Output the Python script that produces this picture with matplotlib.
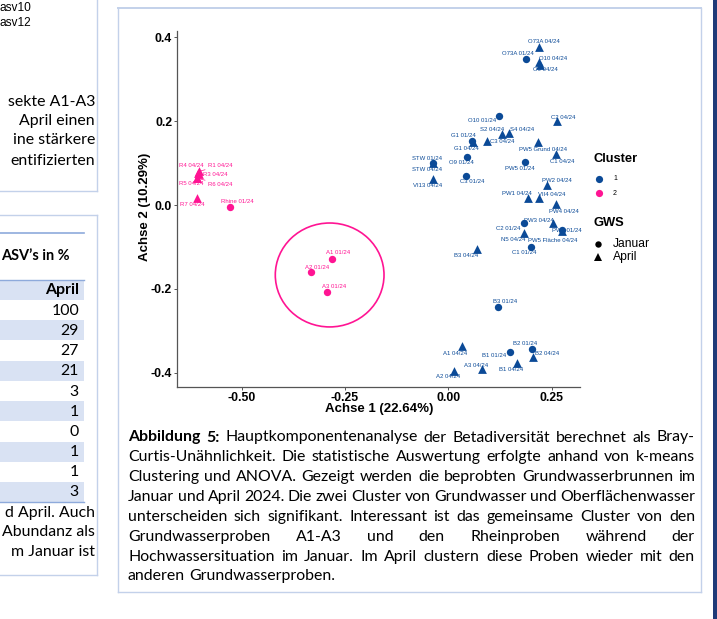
import matplotlib
matplotlib.use('Agg')
import matplotlib.pyplot as plt
from matplotlib.patches import Ellipse, Rectangle
from matplotlib.lines import Line2D

# ---------------- data ----------------
names = ["O73A 04/24", "O73A 01/24", "O10 04/24", "O9 04/24", "O10 01/24", "C2 04/24",
         "S2 04/24", "S4 04/24", "G1 01/24", "G1 04/24", "C3 04/24", "PW5 Grund 04/24",
         "C1 04/24", "O9 01/24", "PW5 01/24", "C3 01/24", "STW 01/24", "STW 04/24",
         "VI13 04/24", "PW2 04/24", "PW1 04/24", "VII4 04/24", "PW4 04/24", "C2 01/24",
         "PW3 04/24", "PW5 Fläche 04/24", "PW6 01/24", "N5 04/24", "C1 01/24", "B3 04/24",
         "B3 01/24", "A1 04/24", "B2 01/24", "B1 01/24", "B2 04/24", "B1 04/24",
         "A3 04/24", "A2 04/24", "R4 04/24", "R1 04/24", "R3 04/24", "R5 04/24",
         "R6 04/24", "R7 04/24", "Rhine 01/24", "A1 01/24", "A2 01/24", "A3 01/24"]
axis1 = [0.219, 0.187, 0.220, 0.222, 0.123, 0.264, 0.129, 0.146, 0.057, 0.059, 0.093, 0.217,
         0.261, 0.045, 0.186, 0.042, -0.036, -0.036, -0.036, 0.238, 0.194, 0.219, 0.261, 0.184,
         0.253, 0.275, 0.274, 0.184, 0.199, 0.069, 0.121, 0.032, 0.202, 0.149, 0.205, 0.166,
         0.082, 0.014, -0.606, -0.604, -0.604, -0.609, -0.607, -0.607, -0.527, -0.281, -0.332, -0.293]
axis2 = [0.377, 0.348, 0.341, 0.335, 0.212, 0.200, 0.169, 0.171, 0.152, 0.151, 0.153, 0.150,
         0.122, 0.115, 0.102, 0.070, 0.101, 0.101, 0.063, 0.047, 0.016, 0.016, 0.002, -0.042,
         -0.044, -0.061, -0.060, -0.066, -0.101, -0.104, -0.243, -0.336, -0.344, -0.352, -0.363, -0.376,
         -0.391, -0.396, 0.077, 0.080, 0.073, 0.064, 0.064, 0.017, -0.005, -0.128, -0.160, -0.207]
cluster = [1] * 38 + [2] * 10
gws = ['Januar' if n.endswith('01/24') else 'April' for n in names]

# cluster-2 ellipse (centre, width, height in axis units)
ellipse_center = (-0.287, -0.167)
ellipse_size = (0.263, 0.248)

x_ticks = [-0.50, -0.25, 0.00, 0.25]
x_ticklabels = ["-0.50", "-0.25", "0.00", "0.25"]
y_ticks = [-0.4, -0.2, 0.0, 0.2, 0.4]
y_ticklabels = ["-0.4", "-0.2", "0.0", "0.2", "0.4"]

table_header = "April"
table_values = [100, 29, 27, 21, 3, 1, 0, 1, 1, 3]

caption = [
    "Abbildung 5: Hauptkomponentenanalyse der Betadiversität berechnet als Bray-",
    "Curtis-Unähnlichkeit. Die statistische Auswertung erfolgte anhand von k-means",
    "Clustering und ANOVA. Gezeigt werden die beprobten Grundwasserbrunnen im",
    "Januar und April 2024. Die zwei Cluster von Grundwasser und Oberflächenwasser",
    "unterscheiden sich signifikant. Interessant ist das gemeinsame Cluster von den",
    "Grundwasserproben A1-A3 und den Rheinproben während der",
    "Hochwassersituation im Januar. Im April clustern diese Proben wieder mit den",
    "anderen Grundwasserproben.",
]
left_top_lines = ["sekte A1-A3", "April einen", "ine stärkere", "entifizierten"]
left_bottom_lines = ["d April. Auch", "Abundanz als", "m Januar ist"]

# ---------------- styles ----------------
W, H = 717, 619
BLUE = '#0b4a97'
PINK = '#ff1493'
BORDER = '#c3d1ea'
TBLUE = '#8eaadb'
SHADE = '#d9e2f3'
BODY = 'Lato'
ARIAL = 'Liberation Sans'

# label offsets in pixels (dx right, dy down)
label_offset = {
    "O73A 04/24": (5, -5.3), "O73A 01/24": (-8, -5.7), "O10 04/24": (14, -3.6),
    "O9 04/24": (5.7, 5.2), "O10 01/24": (-17.3, 4.4), "C2 04/24": (6, -4),
    "S2 04/24": (-10, -4.6), "S4 04/24": (13, -4), "G1 01/24": (-8.4, -5.6),
    "G1 04/24": (-6, 7), "C3 04/24": (15, 0.3), "PW5 Grund 04/24": (4.7, 7),
    "C1 04/24": (6.3, 7.7), "O9 01/24": (-6, 5.6), "PW5 01/24": (-5.7, 6.4),
    "C3 01/24": (6.3, 5.6), "STW 01/24": (-6, -4.4), "STW 04/24": (-6, 7.3),
    "VI13 04/24": (-6, 7.3), "PW2 04/24": (10.2, -4.8), "PW1 04/24": (-12, -4.8),
    "VII4 04/24": (12.7, -4.2), "PW4 04/24": (7.3, 7.4), "C2 01/24": (-16, 6.3),
    "PW3 04/24": (-14.4, -3), "PW5 Fläche 04/24": (-9.3, 9.6), "PW6 01/24": (5, 0.5),
    "N5 04/24": (-11, 6.6), "C1 01/24": (-6, 5.5), "B3 04/24": (-10.3, 7),
    "B3 01/24": (6.7, -5), "A1 04/24": (-6.7, 8), "B2 01/24": (-6.3, -5.3),
    "B1 01/24": (-15.4, 3), "B2 04/24": (13.7, -3.3), "B1 04/24": (-6, 7.3),
    "A3 04/24": (-6, -3.7), "A2 04/24": (-5.7, 6), "R4 04/24": (-6.7, -7),
    "R1 04/24": (21.5, -5.8), "R3 04/24": (16.5, 0.5), "R5 04/24": (-5.7, 5.7),
    "R6 04/24": (22.7, 6), "R7 04/24": (-5.6, 6.6), "Rhine 01/24": (6.4, -5.6),
    "A1 01/24": (6, -6), "A2 01/24": (6.3, -4.7), "A3 01/24": (6.7, -5.7),
}
segment_labels = {"R1 04/24", "R3 04/24", "R6 04/24"}

fig = plt.figure(figsize=(W / 100, H / 100), dpi=100)
fig.patch.set_facecolor('white')


def fx(px):
    return px / W


def fy(py):
    return 1 - py / H


def hline(x0, x1, y, color=BORDER, lw=1.0):
    fig.add_artist(Line2D([fx(x0), fx(x1)], [fy(y), fy(y)], color=color, lw=lw,
                          transform=fig.transFigure))


def vline(x, y0, y1, color=BORDER, lw=1.0):
    fig.add_artist(Line2D([fx(x), fx(x)], [fy(y0), fy(y1)], color=color, lw=lw,
                          transform=fig.transFigure))


# ---------------- page frames ----------------
vline(97, 0, 191); hline(0, 97, 191)
hline(0, 97, 215); vline(97, 215, 575); hline(0, 97, 575)
hline(118, 701, 8, lw=1.4); vline(118, 8, 592); vline(701, 8, 592); hline(118, 701, 592)
fig.add_artist(Rectangle((fx(713), 0), fx(717) - fx(713), 1, color='#1f3a78',
                         transform=fig.transFigure, lw=0))

# ---------------- scatter axes ----------------
ax = fig.add_axes([fx(177), fy(387), fx(580) - fx(177), fy(31) - fy(387)])
ax.set_xlim((177 - 448.3) / 413.4, (580 - 448.3) / 413.4)
ax.set_ylim((205 - 387) / 419, (205 - 31) / 419)
for s in ['top', 'right']:
    ax.spines[s].set_visible(False)
for s in ['left', 'bottom']:
    ax.spines[s].set_color('#555555')
    ax.spines[s].set_linewidth(0.9)
ax.set_xticks(x_ticks)
ax.set_xticklabels(x_ticklabels)
ax.set_yticks(y_ticks)
ax.set_yticklabels(y_ticklabels)
ax.tick_params(length=2, width=0.7, color='#555555', pad=1.5)
for lab in ax.get_xticklabels() + ax.get_yticklabels():
    lab.set_fontfamily(ARIAL)
    lab.set_fontweight('bold')
    lab.set_fontsize(8.8)
ax.patch.set_alpha(0)

ax.add_patch(Ellipse(ellipse_center, ellipse_size[0], ellipse_size[1], fill=False,
                     edgecolor=PINK, lw=1.2))

for month, marker, size in [('Januar', 'o', 28), ('April', '^', 40)]:
    for cl, col in [(1, BLUE), (2, PINK)]:
        xs = [a for a, c, g in zip(axis1, cluster, gws) if c == cl and g == month]
        ys = [b for b, c, g in zip(axis2, cluster, gws) if c == cl and g == month]
        ax.scatter(xs, ys, marker=marker, s=size, color=col, linewidths=0, zorder=3)

for n, a, b, c in zip(names, axis1, axis2, cluster):
    col = BLUE if c == 1 else PINK
    dx, dy = label_offset[n]
    kw = {}
    if n in segment_labels:
        kw['arrowprops'] = dict(arrowstyle='-', lw=0.5, color=col, shrinkA=0, shrinkB=2)
    ax.annotate(n, (a, b), xytext=(dx, -dy), textcoords='offset pixels', ha='center',
                va='center', fontsize=4.3, family=ARIAL, color=col, zorder=4, **kw)

fig.text(fx(379), fy(409), "Achse 1 (22.64%)", ha='center', va='center',
         fontsize=9.5, fontweight='bold', family=ARIAL)
fig.text(fx(145), fy(207), "Achse 2 (10.29%)", ha='center', va='center', rotation=90,
         fontsize=9.5, fontweight='bold', family=ARIAL)

# ---------------- legend ----------------
fig.text(fx(593), fy(159), "Cluster", ha='left', va='center', fontsize=9.3,
         fontweight='bold', family=ARIAL)
for i, (lab, col) in enumerate([("1", BLUE), ("2", PINK)]):
    yy = 179 + i * 14.3
    fig.add_artist(Line2D([fx(599)], [fy(yy)], marker='o', ms=5.2, color=col, mew=0,
                          transform=fig.transFigure))
    fig.text(fx(613), fy(yy), lab, ha='left', va='center', fontsize=5, family=ARIAL)
fig.text(fx(593), fy(222.5), "GWS", ha='left', va='center', fontsize=9.3,
         fontweight='bold', family=ARIAL)
for i, (lab, mk, ms) in enumerate([("Januar", 'o', 4.6), ("April", '^', 6.0)]):
    yy = 244.3 + i * 12.6
    fig.add_artist(Line2D([fx(598.3)], [fy(yy)], marker=mk, ms=ms, color='black', mew=0,
                          transform=fig.transFigure))
    fig.text(fx(613), fy(yy), lab, ha='left', va='center', fontsize=8.7, family=ARIAL)

# ---------------- body text ----------------
renderer = fig.canvas.get_renderer()


def measure(s, size, bold=False):
    t = fig.text(0, 0, s, fontsize=size, family=BODY, fontweight='bold' if bold else 'normal')
    w = t.get_window_extent(renderer).width
    t.remove()
    return w


base = 10.5
CAP_X0, CAP_X1 = 128, 695
tokens = []
for i, line in enumerate(caption):
    words = line.split()
    tokens.append([(w, i == 0 and j < 2) for j, w in enumerate(words)])
sp = measure("n n", base) - measure("nn", base)
natural = []
for toks in tokens[:-1]:
    natural.append(sum(measure(w, base, b) for w, b in toks) + sp * 0.8 * (len(toks) - 1))
scale = min(1.1, (CAP_X1 - CAP_X0) / max(natural))
size = base * scale
sp = measure("n n", size) - measure("nn", size)

for i, toks in enumerate(tokens):
    yb = 437 + 19.85 * i + 4.5
    widths = [measure(w, size, b) for w, b in toks]
    if i < len(tokens) - 1 and len(toks) > 1:
        gap = ((CAP_X1 - CAP_X0) - sum(widths)) / (len(toks) - 1)
    else:
        gap = sp
    x = CAP_X0
    for (w, b), wd in zip(toks, widths):
        fig.text(fx(x), fy(yb), w, fontsize=size, family=BODY,
                 fontweight='bold' if b else 'normal', ha='left', va='baseline')
        x += wd + gap

for i, line in enumerate(left_top_lines):
    yb = [101, 121, 140, 160][i] + 4.5
    fig.text(fx(95), fy(yb), line, fontsize=size, family=BODY, ha='right', va='baseline')
for i, line in enumerate(left_bottom_lines):
    yb = 512 + 20 * i + 4.5
    fig.text(fx(95), fy(yb), line, fontsize=size, family=BODY, ha='right', va='baseline')

fig.text(fx(0), fy(8), "asv10", fontsize=8.6, family=ARIAL, ha='left', va='center')
fig.text(fx(0), fy(23), "asv12", fontsize=8.6, family=ARIAL, ha='left', va='center')

# ---------------- table fragment ----------------
hline(0, 84, 232.5, color=TBLUE, lw=1.2)
fig.text(fx(1), fy(256 + 4.5), "ASV\u2019s in %", fontsize=size * 0.92, family=BODY,
         fontweight='bold', ha='left', va='baseline')
row_h = 20.2
head_c = 290
for r in range(len(table_values) + 1):
    if r % 2 == 0:
        top = head_c - row_h / 2 + r * row_h
        fig.add_artist(Rectangle((fx(0), fy(top + row_h)), fx(84), fy(top) - fy(top + row_h),
                                 color=SHADE, lw=0, transform=fig.transFigure, zorder=0))
hline(0, 84, head_c - row_h / 2, color=TBLUE, lw=1.0)
hline(0, 84, head_c + row_h / 2 + len(table_values) * row_h, color=TBLUE, lw=1.0)
fig.text(fx(79), fy(head_c + 4.5), table_header, fontsize=size, family=BODY,
         fontweight='bold', ha='right', va='baseline')
for r, v in enumerate(table_values):
    fig.text(fx(79), fy(head_c + (r + 1) * row_h + 4.5), str(v), fontsize=size,
             family=BODY, ha='right', va='baseline')

fig.savefig('out.png', dpi=100, facecolor='white')
